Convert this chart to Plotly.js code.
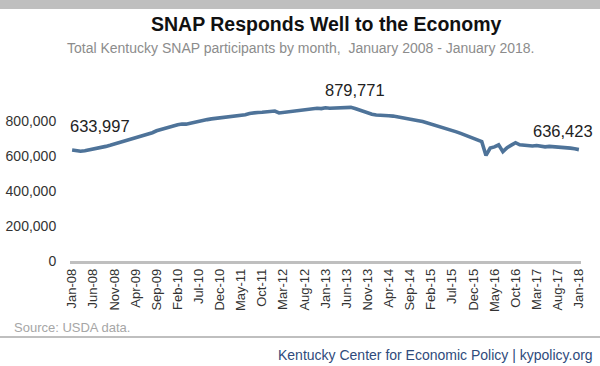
<!DOCTYPE html>
<html>
<head>
<meta charset="utf-8">
<script src="https://cdn.plot.ly/plotly-3.0.1.min.js"></script>
<style>
  html, body { margin: 0; padding: 0; background: #fff; }
  #chart { width: 600px; height: 366px; }
</style>
</head>
<body>
<div id="chart"></div>
<script>
// ---- Data ----
const monthNames = ["Jan","Feb","Mar","Apr","May","Jun","Jul","Aug","Sep","Oct","Nov","Dec"];
const startYear = 2008;
const endYear = 2018;

// Total Kentucky SNAP participants, Jan-08 .. Jan-18 (121 months)
const participants = [
  633997, 628000, 627000, 630000, 634000, 639000, 643000, 649000, 655000, 661000, 668000, 675000,
  681000, 688000, 697000, 703000, 708000, 716000, 727000, 733000, 744000, 752000, 758000, 766000,
  774000, 779000, 783000, 782000, 787000, 793000, 801000, 805000, 808000, 812000, 815000, 818000,
  822000, 820000, 826000, 828000, 830000, 836000, 843000, 848000, 849000, 850000, 851000, 854000,
  857000, 846000, 849000, 852000, 856000, 861000, 864000, 867000, 869000, 870000, 873000, 871000,
  876000, 873000, 875000, 876000, 877000, 879771, 878000, 871000, 862000, 852000, 845000, 839000,
  834000, 831000, 830000, 830000, 828000, 824000, 822000, 819000, 813000, 808000, 802000, 797000,
  790000, 785000, 775000, 768000, 762000, 754000, 746000, 738000, 729000, 720000, 712000, 705000,
  696000, 682000, 603000, 645000, 652000, 664000, 625000, 648000, 662000, 676000, 664000, 660000,
  659000, 657000, 660000, 654000, 652000, 655000, 653000, 654000, 652000, 650000, 645000, 641000,
  636423
];

// Month categories "Jan-08" ... "Jan-18"
const months = [];
for (let y = startYear; y <= endYear; y++) {
  for (let m = 0; m < 12; m++) {
    if (y === endYear && m > 0) break;
    months.push(monthNames[m] + "-" + String(y).slice(2));
  }
}

// Tick labels shown on the axis (every 5th month)
const tickLabels = ["Jan-08","Jun-08","Nov-08","Apr-09","Sep-09","Feb-10","Jul-10","Dec-10",
  "May-11","Oct-11","Mar-12","Aug-12","Jan-13","Jun-13","Nov-13","Apr-14","Sep-14","Feb-15",
  "Jul-15","Dec-15","May-16","Oct-16","Mar-17","Aug-17","Jan-18"];

const yTicks = [0, 200000, 400000, 600000, 800000];

// Labelled points
const labelled = [
  {month: "Jan-08", value: 633997},
  {month: "Jun-13", value: 879771},
  {month: "Jan-18", value: 636423}
];

// ---- Layout helpers (pixel -> paper) ----
const L = 70, R = 581, T = 86, B = 261;
const px = x => (x - L) / (R - L);
const py = y => (B - y) / (B - T);

const font = "Liberation Sans, Arial, sans-serif";

const trace = {
  x: months,
  y: participants,
  type: "scatter",
  mode: "lines",
  line: {color: "#4E7399", width: 3.6, shape: "linear"},
  hoverinfo: "x+y"
};

const annotations = [
  {xref: "paper", yref: "paper", x: 0.5, y: py(24), xanchor: "center", yanchor: "middle",
   text: "<b>SNAP Responds Well to the Economy</b>", showarrow: false,
   font: {family: font, size: 19.5, color: "#111"}, xshift: 0},
  {xref: "paper", yref: "paper", x: px(300), y: py(48), xanchor: "center", yanchor: "middle",
   text: "Total Kentucky SNAP participants by month, \u00a0January 2008 - January 2018.", showarrow: false,
   font: {family: font, size: 14, color: "#8C8C8C"}},
  {xref: "paper", yref: "paper", x: px(12), y: py(327), xanchor: "left", yanchor: "middle",
   text: "Source: USDA data.", showarrow: false,
   font: {family: font, size: 13, color: "#A6A6A6"}},
  {xref: "paper", yref: "paper", x: px(595), y: py(355), xanchor: "right", yanchor: "middle",
   text: "Kentucky Center for Economic Policy | kypolicy.org", showarrow: false,
   font: {family: font, size: 14, color: "#2F4B7C"}}
];

// value labels, positioned from the data through the axes
annotations.push({x: labelled[0].month, y: labelled[0].value, xref: "x", yref: "y",
  text: "633,997", showarrow: false, xanchor: "left", yanchor: "bottom", xshift: -4, yshift: 13,
  font: {family: font, size: 16.5, color: "#222"}});
annotations.push({x: labelled[1].month, y: labelled[1].value, xref: "x", yref: "y",
  text: "879,771", showarrow: false, xanchor: "center", yanchor: "bottom", xshift: 8, yshift: 6,
  font: {family: font, size: 16.5, color: "#222"}});
annotations.push({x: labelled[2].month, y: labelled[2].value, xref: "x", yref: "y",
  text: "636,423", showarrow: false, xanchor: "right", yanchor: "bottom", xshift: 16, yshift: 8,
  font: {family: font, size: 16.5, color: "#222"}});

const shapes = [
  // top grey band
  {type: "rect", xref: "paper", yref: "paper", x0: px(0), x1: px(600), y0: py(0), y1: py(9),
   fillcolor: "#BFBFBF", line: {width: 0}, layer: "above"},
  // footer separator line
  {type: "line", xref: "paper", yref: "paper", x0: px(0), x1: px(600), y0: py(337), y1: py(337),
   line: {color: "#BFBFBF", width: 2}}
];

const layout = {
  width: 600, height: 366,
  margin: {l: L, r: 600 - R, t: T, b: 366 - B, pad: 0},
  paper_bgcolor: "#fff", plot_bgcolor: "#fff",
  showlegend: false,
  font: {family: font, color: "#333"},
  xaxis: {
    type: "category",
    range: [-0.5, months.length - 0.5],
    tickmode: "array", tickvals: tickLabels, ticktext: tickLabels,
    tickangle: -90, tickfont: {family: font, size: 13, color: "#333"},
    showgrid: false, zeroline: false,
    showline: true, linecolor: "#BFBFBF", linewidth: 2.5,
    ticks: "", ticklen: 0, automargin: false
  },
  yaxis: {
    range: [0, 1000000],
    tickmode: "array", tickvals: yTicks,
    tickformat: ",d",
    tickfont: {family: font, size: 14, color: "#333"},
    showgrid: false, zeroline: false, showline: false,
    ticks: "outside", ticklen: 10, tickcolor: "rgba(0,0,0,0)",
    automargin: false
  },
  annotations: annotations,
  shapes: shapes
};

Plotly.newPlot("chart", [trace], layout, {staticPlot: true, displayModeBar: false});
</script>
</body>
</html>
